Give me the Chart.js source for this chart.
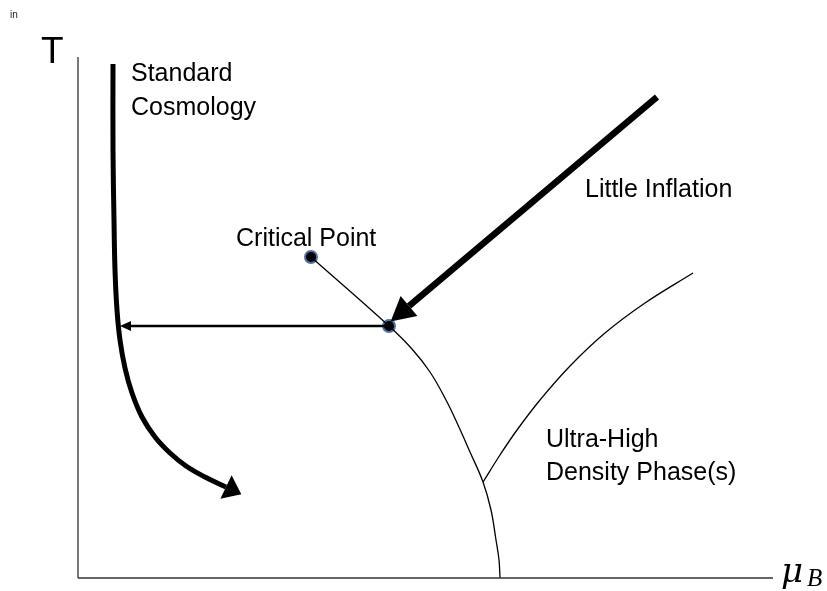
<!DOCTYPE html>
<html>
<head>
<meta charset="utf-8">
<script src="https://cdn.jsdelivr.net/npm/chart.js@4/dist/chart.umd.min.js"></script>
<style>
html,body{margin:0;padding:0;background:#fff;}
#wrap{width:827px;height:591px;}
</style>
</head>
<body>
<div id="wrap"><canvas id="c" width="827" height="591"></canvas></div>
<script>
// Schematic phase diagram: x = baryon chemical potential (arbitrary units), y = temperature (arbitrary units)
const yAxisX = [0, 0];
const yAxisY = [521, 0];
const xAxisX = [0, 695];
const xAxisY = [0, 0];

// Standard cosmology trajectory
const cosmoX = [35, 35, 36, 37, 39, 42, 47, 54, 64, 77, 92, 108, 127, 148];
const cosmoY = [514, 428, 358, 308, 268, 238, 210, 185, 161, 141, 125, 112, 101, 91];

// Horizontal arrow from the phase boundary towards the cosmology line
const horizX = [308, 53];
const horizY = [252, 252];

// Little inflation trajectory
const inflX = [579, 331];
const inflY = [481, 272];

// Phase boundary from critical point down to T=0
const boundaryX = [233, 311, 334, 352, 368, 380, 392, 405, 413, 418, 421, 422];
const boundaryY = [321, 252, 229, 206, 178, 153, 126, 96, 68, 38, 18, 0];

// Branch towards ultra-high density phase(s)
const branchX = [405, 422, 439, 462, 492, 527, 567, 615];
const branchY = [96, 123, 148, 178, 212, 245, 275, 305];

// Marked points: critical point and transition point
const pointsX = [233, 311];
const pointsY = [321, 252];

// Labels
const labelText = ["Standard", "Cosmology", "Critical Point", "Little Inflation", "Ultra-High", "Density Phase(s)"];
const labelX = [53, 53, 158, 507, 468, 468];
const labelY = [497, 463, 332, 381, 131, 98];

const zip = (xs, ys) => xs.map((x, i) => ({x: x, y: ys[i]}));

const arrowPlugin = {
  id: 'arrows',
  afterDatasetsDraw(chart) {
    const ctx = chart.ctx;
    const xs = chart.scales.x, ys = chart.scales.y;
    chart.data.datasets.forEach(ds => {
      if (!ds.arrow) return;
      const d = ds.data;
      const a = d[d.length - 2], b = d[d.length - 1];
      const ax = xs.getPixelForValue(a.x), ay = ys.getPixelForValue(a.y);
      const bx = xs.getPixelForValue(b.x), by = ys.getPixelForValue(b.y);
      let dx = bx - ax, dy = by - ay;
      const len = Math.hypot(dx, dy);
      dx /= len; dy /= len;
      const L = ds.arrow.length, W = ds.arrow.width / 2;
      const tx = bx + dx * L, ty = by + dy * L;
      const px = -dy, py = dx;
      ctx.save();
      ctx.fillStyle = '#000';
      ctx.beginPath();
      ctx.moveTo(tx, ty);
      ctx.lineTo(bx + px * W, by + py * W);
      ctx.lineTo(bx - px * W, by - py * W);
      ctx.closePath();
      ctx.fill();
      ctx.restore();
    });
  }
};

const textPlugin = {
  id: 'texts',
  afterDraw(chart) {
    const ctx = chart.ctx;
    const xs = chart.scales.x, ys = chart.scales.y;
    ctx.save();
    ctx.fillStyle = '#000';
    ctx.textBaseline = 'alphabetic';
    ctx.textAlign = 'left';
    ctx.font = '25px "Liberation Sans", Arial, sans-serif';
    labelText.forEach((t, i) => {
      ctx.fillText(t, xs.getPixelForValue(labelX[i]), ys.getPixelForValue(labelY[i]));
    });
    // axis titles
    ctx.font = '37px "Liberation Sans", Arial, sans-serif';
    ctx.fillText('T', xs.getPixelForValue(-37), ys.getPixelForValue(515));
    ctx.font = '10px "Liberation Sans", Arial, sans-serif';
    ctx.fillStyle = '#222';
    ctx.fillText('in', xs.getPixelForValue(-68), ys.getPixelForValue(560));
    ctx.fillStyle = '#000';
    ctx.font = 'italic 34px "DejaVu Serif", "Liberation Serif", serif';
    ctx.fillText('μ', xs.getPixelForValue(703), ys.getPixelForValue(-4));
    ctx.font = 'italic 25px "Liberation Serif", serif';
    ctx.fillText('B', xs.getPixelForValue(729), ys.getPixelForValue(-8));
    ctx.restore();
  }
};

const lineDs = (xs, ys, w, extra) => Object.assign({
  data: zip(xs, ys),
  showLine: true,
  borderColor: '#000',
  backgroundColor: '#000',
  borderWidth: w,
  pointRadius: 0,
  pointHoverRadius: 0,
  fill: false,
  tension: 0
}, extra || {});

new Chart(document.getElementById('c'), {
  type: 'scatter',
  data: {
    datasets: [
      lineDs(yAxisX, yAxisY, 1.3, {borderColor: '#333'}),
      lineDs(xAxisX, xAxisY, 1.3, {borderColor: '#333'}),
      lineDs(boundaryX, boundaryY, 1.3, {tension: 0.4}),
      lineDs(branchX, branchY, 1.3, {tension: 0.4}),
      lineDs(cosmoX, cosmoY, 5, {tension: 0.4, arrow: {length: 17, width: 26}}),
      lineDs(horizX, horizY, 2.7, {arrow: {length: 11, width: 10}}),
      lineDs(inflX, inflY, 6.5, {arrow: {length: 24, width: 26}}),
      {
        data: zip(pointsX, pointsY),
        showLine: false,
        pointRadius: 6,
        pointBackgroundColor: '#000',
        pointBorderColor: '#4a72a8',
        pointBorderWidth: 2,
        pointHoverRadius: 6
      }
    ]
  },
  options: {
    responsive: false,
    animation: false,
    events: [],
    layout: {padding: 0, autoPadding: false},
    plugins: {legend: {display: false}, tooltip: {enabled: false}},
    scales: {
      x: {type: 'linear', display: false, min: -78, max: 749},
      y: {type: 'linear', display: false, min: -13, max: 578}
    }
  },
  plugins: [arrowPlugin, textPlugin]
});
</script>
</body>
</html>
